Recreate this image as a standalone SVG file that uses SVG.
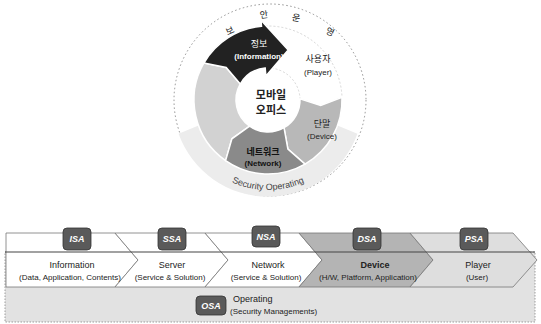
<svg xmlns="http://www.w3.org/2000/svg" width="541" height="324" viewBox="0 0 541 324">
<defs>
<style>
.ko{font-family:"Noto Sans CJK KR","Noto Sans",sans-serif;fill:#222;text-anchor:middle}
.en{font-family:"Liberation Sans","DejaVu Sans",sans-serif;fill:#222;text-anchor:middle}
.seg{stroke:#fff;stroke-width:1.5}
.chev{stroke:#777;stroke-width:0.8}
.badge{fill:#5a5a5a;stroke:#333;stroke-width:0.8}
.btxt{font-family:"Liberation Sans",sans-serif;font-size:9px;font-weight:bold;font-style:italic;fill:#fff;text-anchor:middle}
</style>
<path id="secArc" d="M194.3,151.6 A90,90 0 0 0 341.7,151.6"/>
</defs>
<rect width="541" height="324" fill="#fff"/>

<g id="cycle">
<circle cx="270" cy="100" r="96" fill="none" stroke="#777" stroke-width="0.8" stroke-dasharray="1.5 2.5"/>
<path d="M357.4,133.8 A95,95 0 0 1 178.6,133.8 L202.2,124 A70,70 0 0 0 333.8,124 Z" fill="#ececec"/>
<g id="ring-left"><path class="seg" fill="#d2d2d2" d="M225.6,160.6 A74,74 0 0 1 203.9,63 L226.2,67.4 L240.3,84 A32,32 0 0 0 249.6,126.2 L231.9,138.8 Z"/></g>
<g id="ring-player"><path fill="#fff" stroke="#ccc" stroke-width="0.8" stroke-dasharray="2 2" d="M261.5,26.3 A74,74 0 0 1 342,97.4 L320.7,105.5 L300,98.9 A32,32 0 0 0 265.2,68.1 L270.8,47.1 Z"/>
<text class="ko" x="318" y="62" font-size="9">사용자</text><text class="en" x="318" y="75" font-size="8">(Player)</text></g>
<g id="ring-device"><path class="seg" fill="#b8b8b8" d="M342,97.4 A74,74 0 0 1 305,164.1 L287.9,149.1 L284,127.7 A32,32 0 0 0 300,98.9 L320.7,105.5 Z"/>
<text class="ko" x="322" y="127" font-size="9">단말</text><text class="en" x="322" y="139" font-size="8">(Device)</text></g>
<g id="ring-network"><path class="seg" fill="#8a8a8a" d="M305,164.1 A74,74 0 0 1 225.6,160.6 L231.9,138.8 L249.6,126.2 A32,32 0 0 0 284,127.7 L287.9,149.1 Z"/>
<text class="ko" x="263" y="155" font-size="9" font-weight="bold" style="fill:#111">네트워크</text><text class="en" x="263" y="166" font-size="8" font-weight="bold" style="fill:#111">(Network)</text></g>
<g id="ring-info"><path class="seg" fill="#222" d="M203.9,63 A74,74 0 0 1 261.5,26.3 L261,20.3 L288.2,49.9 L265.9,76.1 L265.2,68.1 A32,32 0 0 0 240.3,84 L226.2,67.4 Z"/>
<text class="ko" x="259" y="47" font-size="9" style="fill:#fff">정보</text><text class="en" x="259" y="59" font-size="8" font-weight="bold" style="fill:#fff">(Information)</text></g>
<g id="center"><text class="ko" x="271" y="99" font-size="11" font-weight="bold">모바일</text><text class="ko" x="271" y="114" font-size="11" font-weight="bold">오피스</text></g>
<text class="en" font-size="9" style="fill:#444"><textPath href="#secArc" startOffset="50%">Security Operating</textPath></text>
<g class="ko" font-size="9">
<text x="230" y="34" transform="rotate(-25 230 31)">보</text>
<text x="264" y="18" transform="rotate(-8 264 15)">안</text>
<text x="296" y="21" transform="rotate(10 296 18)">운</text>
<text x="330" y="35" transform="rotate(25 330 32)">영</text>
</g>
</g>

<g id="bottom">
<rect x="5" y="252" width="530" height="70" fill="#e2e2e2" stroke="#888" stroke-width="0.8" stroke-dasharray="1.5 1.5"/>
<g id="chevrons">
<path class="chev" fill="#fff" d="M6,233 L115,233 L138,260 L115,287 L6,287 Z"/>
<path class="chev" fill="#fff" d="M115,233 L205,233 L228,260 L205,287 L115,287 L138,260 Z"/>
<path class="chev" fill="#fff" d="M205,233 L299,233 L322,260 L299,287 L205,287 L228,260 Z"/>
<path class="chev" fill="#b4b4b4" d="M299,233 L410,233 L433,260 L410,287 L299,287 L322,260 Z"/>
<path class="chev" fill="#dedede" d="M410,233 L513,233 L537,260 L513,287 L410,287 L433,260 Z"/>
</g>
<line x1="5" y1="252" x2="535" y2="252" stroke="#444" stroke-width="1.2"/>
<g id="n-info"><rect class="badge" x="63" y="228" width="28" height="22" rx="4"/><text class="btxt" x="77" y="242">ISA</text>
<text class="en" x="72" y="268" font-size="9">Information</text><text class="en" x="70" y="280" font-size="8">(Data, Application, Contents)</text></g>
<g id="n-server"><rect class="badge" x="158" y="228" width="28" height="22" rx="4"/><text class="btxt" x="172" y="242">SSA</text>
<text class="en" x="172" y="268" font-size="9">Server</text><text class="en" x="170" y="280" font-size="8">(Service &amp; Solution)</text></g>
<g id="n-network"><rect class="badge" x="252" y="226" width="28" height="21" rx="4"/><text class="btxt" x="266" y="240">NSA</text>
<text class="en" x="268" y="268" font-size="9">Network</text><text class="en" x="266" y="280" font-size="8">(Service &amp; Solution)</text></g>
<g id="n-device"><rect class="badge" x="353" y="228" width="28" height="22" rx="4"/><text class="btxt" x="367" y="242">DSA</text>
<text class="en" x="375" y="268" font-size="9" font-weight="bold">Device</text><text class="en" x="368" y="280" font-size="8">(H/W, Platform, Application)</text></g>
<g id="n-player"><rect class="badge" x="460" y="228" width="28" height="22" rx="4"/><text class="btxt" x="474" y="242">PSA</text>
<text class="en" x="478" y="268" font-size="9">Player</text><text class="en" x="477" y="280" font-size="8">(User)</text></g>
<g id="n-operating"><rect class="badge" x="196" y="296" width="30" height="19" rx="4"/><text class="btxt" x="211" y="309">OSA</text>
<text class="en" x="233" y="302" font-size="9" style="text-anchor:start">Operating</text><text class="en" x="230" y="314" font-size="8" style="text-anchor:start">(Security Managements)</text></g>
</g>
</svg>
